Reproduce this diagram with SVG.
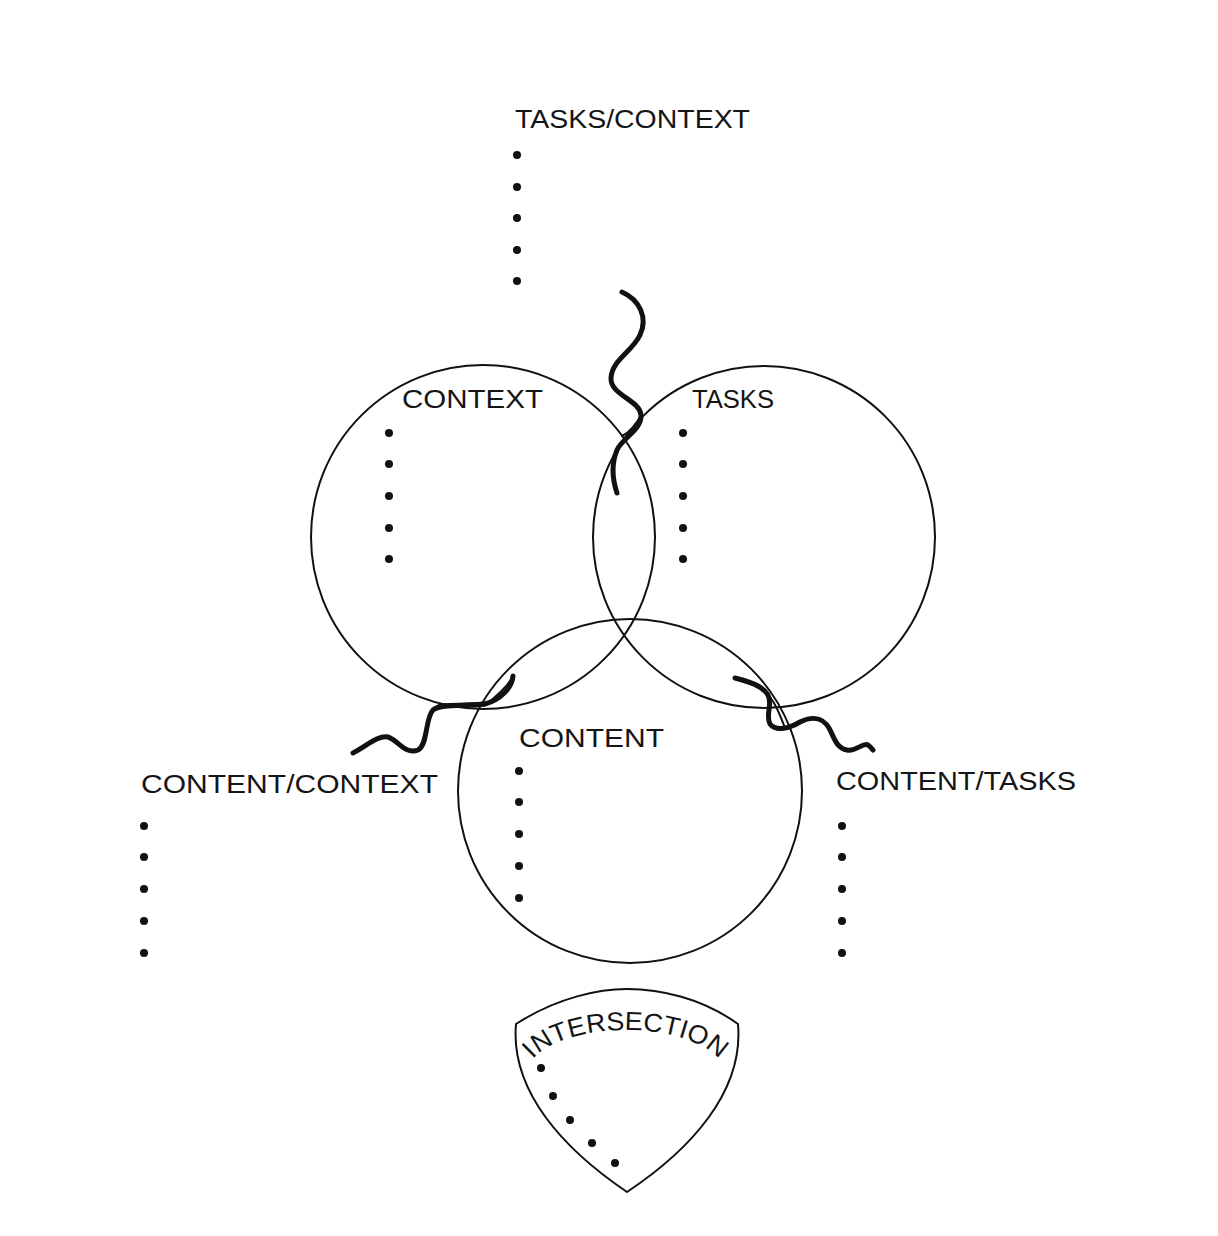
<svg xmlns="http://www.w3.org/2000/svg" width="1218" height="1236" viewBox="0 0 1218 1236">
<defs>
<style>
.c{fill:none;stroke:#111;stroke-width:2}
.t{font-family:"Liberation Sans",Arial,sans-serif;font-size:26px;fill:#151515}
.d{fill:#111}
.sq{fill:none;stroke:#111;stroke-width:5;stroke-linecap:round;stroke-linejoin:round}
.th{fill:none;stroke:#111;stroke-width:2;stroke-linecap:round}
</style>
<path id="arc" d="M526,1076 A100,46 0 0 1 726,1076"/>
</defs>
<rect width="1218" height="1236" fill="#fff"/>

<g id="tasks-context">
<text class="t" x="515" y="128" textLength="235" lengthAdjust="spacingAndGlyphs">TASKS/CONTEXT</text>
<circle class="d" cx="517" cy="155" r="4"/><circle class="d" cx="517" cy="187" r="4"/><circle class="d" cx="517" cy="218" r="4"/><circle class="d" cx="517" cy="250" r="4"/><circle class="d" cx="517" cy="281" r="4"/>
</g>

<g id="context">
<circle class="c" cx="483" cy="537" r="172"/>
<text class="t" x="402" y="408" textLength="141" lengthAdjust="spacingAndGlyphs">CONTEXT</text>
<circle class="d" cx="389" cy="433" r="4"/><circle class="d" cx="389" cy="464" r="4"/><circle class="d" cx="389" cy="496" r="4"/><circle class="d" cx="389" cy="528" r="4"/><circle class="d" cx="389" cy="559" r="4"/>
</g>

<g id="tasks">
<circle class="c" cx="764" cy="537" r="171"/>
<text class="t" x="692" y="408" textLength="82" lengthAdjust="spacingAndGlyphs">TASKS</text>
<circle class="d" cx="683" cy="433" r="4"/><circle class="d" cx="683" cy="464" r="4"/><circle class="d" cx="683" cy="496" r="4"/><circle class="d" cx="683" cy="528" r="4"/><circle class="d" cx="683" cy="559" r="4"/>
</g>

<g id="content">
<circle class="c" cx="630" cy="791" r="172"/>
<text class="t" x="519" y="747" textLength="145" lengthAdjust="spacingAndGlyphs">CONTENT</text>
<circle class="d" cx="519" cy="771" r="4"/><circle class="d" cx="519" cy="802" r="4"/><circle class="d" cx="519" cy="834" r="4"/><circle class="d" cx="519" cy="866" r="4"/><circle class="d" cx="519" cy="898" r="4"/>
</g>

<g id="content-context">
<text class="t" x="141" y="793" textLength="297" lengthAdjust="spacingAndGlyphs">CONTENT/CONTEXT</text>
<circle class="d" cx="144" cy="826" r="4"/><circle class="d" cx="144" cy="857" r="4"/><circle class="d" cx="144" cy="889" r="4"/><circle class="d" cx="144" cy="921" r="4"/><circle class="d" cx="144" cy="953" r="4"/>
</g>

<g id="content-tasks">
<text class="t" x="836" y="790" textLength="240" lengthAdjust="spacingAndGlyphs">CONTENT/TASKS</text>
<circle class="d" cx="842" cy="826" r="4"/><circle class="d" cx="842" cy="857" r="4"/><circle class="d" cx="842" cy="889" r="4"/><circle class="d" cx="842" cy="921" r="4"/><circle class="d" cx="842" cy="953" r="4"/>
</g>

<g id="intersection">
<path class="c" d="M516,1024 C558,997 600,989 627,989 C660,989 702,998 738,1024 C744,1092 690,1150 627,1192 C565,1150 510,1092 516,1024 Z"/>
<text class="t" font-size="25"><textPath href="#arc" startOffset="50%" text-anchor="middle" textLength="200" lengthAdjust="spacingAndGlyphs">INTERSECTION</textPath></text>
<circle class="d" cx="541" cy="1068" r="4"/><circle class="d" cx="553" cy="1096" r="4"/><circle class="d" cx="570" cy="1120" r="4"/><circle class="d" cx="592" cy="1143" r="4"/><circle class="d" cx="615" cy="1163" r="4"/>
</g>

<g id="connectors">
<path class="sq" d="M622,292 C640,300 648,318 640,335 C632,352 612,360 611,378 C610,395 640,400 641,415 C642,430 622,438 617,450 C612,462 612,478 617,493"/>
<path class="th" d="M641,415 C636,425 630,432 622,436"/>
<path class="sq" d="M353,753 C368,745 378,735 388,737 C398,740 405,755 418,750 C428,745 425,718 433,710 C440,703 470,706 485,704 C500,700 512,688 513,676"/>
<path class="sq" stroke-width="7" d="M440,706 C455,705 470,706 484,704"/>
<path class="th" d="M513,676 C508,686 495,698 486,704"/>
<path class="sq" d="M735,678 C750,682 763,686 768,695 C773,705 765,715 770,724 C776,732 790,728 800,722 C810,717 822,716 829,728 C834,737 836,748 847,750 C856,752 863,742 868,745 C871,747 872,749 873,750"/>
<path class="th" d="M768,695 C775,702 780,715 785,728"/>
</g>
</svg>
